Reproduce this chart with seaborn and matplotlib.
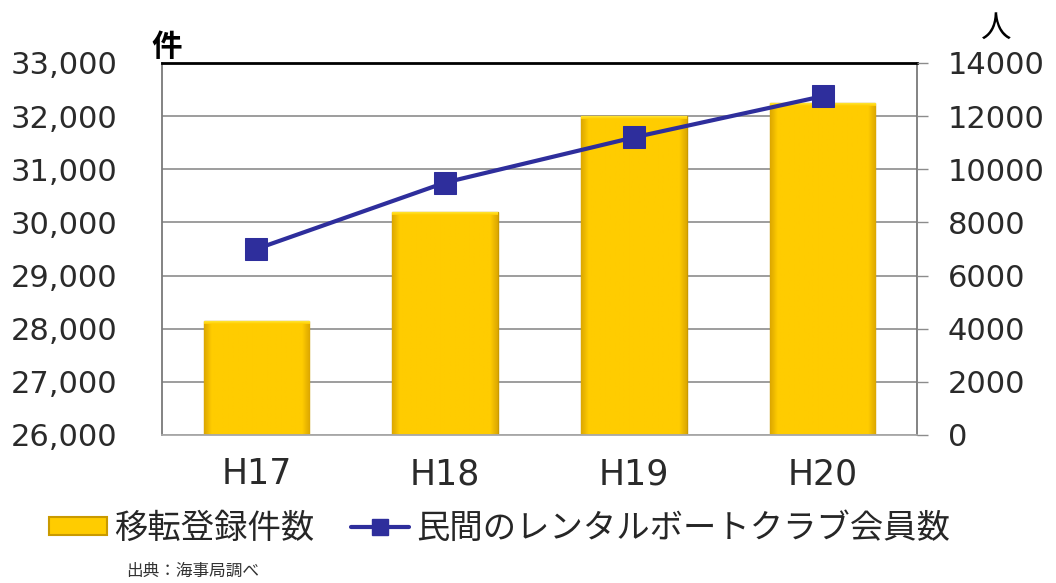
import numpy as np
import pandas as pd
import matplotlib
matplotlib.use("Agg")
import matplotlib.pyplot as plt
from matplotlib.patches import Patch
from matplotlib.lines import Line2D
from matplotlib.colors import LinearSegmentedColormap
import seaborn as sns

# ---- data ----
years = ["H17", "H18", "H19", "H20"]
transfers = [28150, 30200, 32000, 32250]          # 移転登録件数 (件)
members = [7000, 9500, 11200, 12750]              # 民間のレンタルボートクラブ会員数 (人)
left_ticks = [26000, 27000, 28000, 29000, 30000, 31000, 32000, 33000]
left_labels = ["26,000", "27,000", "28,000", "29,000", "30,000", "31,000", "32,000", "33,000"]
right_ticks = [0, 2000, 4000, 6000, 8000, 10000, 12000, 14000]
right_labels = ["0", "2000", "4000", "6000", "8000", "10000", "12000", "14000"]
bar_label = "移転登録件数"
line_label = "民間のレンタルボートクラブ会員数"
left_unit = "件"
right_unit = "人"
source = "出典：海事局調べ"

sns.set_theme(style="white")
plt.rcParams["font.family"] = ["DejaVu Sans", "Noto Sans CJK JP"]
cjk = ["Noto Sans CJK JP", "DejaVu Sans"]

BAR = "#FFCC00"
BAR_EDGE = "#C99A00"
LINE = "#2E2E9C"
TXT = "#2A2A2A"

df = pd.DataFrame({"year": years, "transfers": transfers, "members": members})

fig = plt.figure(figsize=(10.56, 5.83), dpi=100)
ax = fig.add_axes([162 / 1056, 1 - 435 / 583, (917 - 162) / 1056, (435 - 63) / 583])

sns.barplot(data=df, x="year", y="transfers", ax=ax, color=BAR, saturation=1,
            width=0.56, edgecolor=BAR_EDGE, linewidth=1.0)
ax.set_axisbelow(True)
ax.yaxis.grid(True, color="#8C8C8C", linewidth=1.2)
ax.set_ylim(26000, 33000)
ax.set_xlim(-0.5, len(years) - 0.5)

# subtle bevel-like shading clipped to each bar
cmap = LinearSegmentedColormap.from_list(
    "bev", [(0.0, "#DDA800"), (0.07, "#FFCC00"), (0.93, "#FFCC00"), (1.0, "#DDA800")])
grad = np.linspace(0, 1, 128).reshape(1, -1)
for p in list(ax.patches):
    x0, y0 = p.get_x(), 26000
    x1, y1 = p.get_x() + p.get_width(), p.get_y() + p.get_height()
    im = ax.imshow(grad, cmap=cmap, aspect="auto", extent=[x0, x1, y0, y1],
                   zorder=p.get_zorder() + 0.1, interpolation="bilinear")
    im.set_clip_path(p)
    top = ax.imshow(np.linspace(1, 0, 32).reshape(-1, 1), aspect="auto",
                    cmap=LinearSegmentedColormap.from_list("t", ["#FFCC00", "#FFEE44"]),
                    extent=[x0, x1, y1 - 60, y1], zorder=p.get_zorder() + 0.2)
    top.set_clip_path(p)
ax.set_ylim(26000, 33000)
ax.set_xlim(-0.5, len(years) - 0.5)

ax.set_yticks(left_ticks)
ax.set_yticklabels(left_labels)
ax.tick_params(axis="y", length=0, pad=32, labelsize=22, labelcolor=TXT)
ax.tick_params(axis="x", length=0, pad=16, labelsize=25, labelcolor=TXT)
ax.set_xlabel("")
ax.set_ylabel("")

ax2 = ax.twinx()
sns.lineplot(x=np.arange(len(years)), y=members, ax=ax2, color=LINE, linewidth=3,
             marker="s", markersize=16, markeredgecolor=LINE, markerfacecolor=LINE,
             legend=False)
ax2.set_ylim(0, 14000)
ax2.set_yticks(right_ticks)
ax2.set_yticklabels(right_labels)
ax2.tick_params(axis="y", right=True, direction="out", length=8, width=1,
                color="#8C8C8C", pad=14, labelsize=22, labelcolor=TXT)
ax2.set_ylabel("")

for s in ["top", "left", "bottom", "right"]:
    ax2.spines[s].set_visible(False)
ax.spines["top"].set_color("black")
ax.spines["top"].set_linewidth(2)
ax.spines["left"].set_color("#7A7A7A")
ax.spines["left"].set_linewidth(1.3)
ax.spines["bottom"].set_color("#A8A8A8")
ax.spines["bottom"].set_linewidth(1.3)
ax.spines["right"].set_color("#7A7A7A")
ax.spines["right"].set_linewidth(1.3)
ax.spines["right"].set_visible(True)

# units
fig.text(167 / 1056, 1 - 47 / 583, left_unit, ha="center", va="center",
         fontsize=22, fontweight="bold", family=cjk, color="black")
fig.text(996 / 1056, 1 - 28 / 583, right_unit, ha="center", va="center",
         fontsize=22, family=cjk, color="black")

# legend
handles = [
    Patch(facecolor=BAR, edgecolor=BAR_EDGE, linewidth=1.5),
    Line2D([0], [0], color=LINE, linewidth=3, marker="s", markersize=12,
           markerfacecolor=LINE, markeredgecolor=LINE),
]
fig.legend(handles, [bar_label, line_label], loc="center left",
           bbox_to_anchor=(49 / 1056, 1 - 528 / 583), ncol=2, frameon=False,
           borderpad=0, borderaxespad=0, handlelength=1.75, handleheight=0.45,
           handletextpad=0.2, columnspacing=1.1,
           prop={"family": cjk, "size": 24})

fig.text(126 / 1056, 1 - 571 / 583, source, ha="left", va="center",
         fontsize=12, family=cjk, color="#333333")

fig.savefig("out.png", dpi=100, facecolor="white")
